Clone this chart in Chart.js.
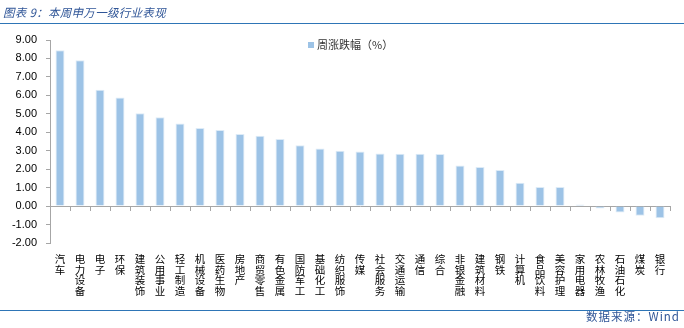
<!DOCTYPE html>
<html>
<head>
<meta charset="utf-8">
<script src="https://cdn.jsdelivr.net/npm/chart.js@4/dist/chart.umd.min.js"></script>
<style>
  html, body { margin: 0; padding: 0; background: #fff; }
  #wrap { position: relative; width: 684px; height: 328px; overflow: hidden; }
  #title { position: absolute; left: 3px; top: 4px; font: italic 11.5px "Noto Sans CJK SC", sans-serif; color: #2F5597; letter-spacing: 0.3px; white-space: nowrap; }
  .rule { position: absolute; left: 0; width: 684px; height: 1px; background: #2E75B6; }
  #legend { position: absolute; left: 308px; top: 36px; font: 11px "Noto Sans CJK SC", sans-serif; color: #333; white-space: nowrap; }
  #legend span.box { display: inline-block; width: 6px; height: 6px; background: #9DC3E6; margin-right: 3px; vertical-align: 1px; }
  #source { position: absolute; right: 4px; top: 308px; font: 11.5px "Noto Sans CJK SC", sans-serif; color: #2F5597; letter-spacing: 1px; white-space: nowrap; }
  canvas { position: absolute; left: 0; top: 0; }
</style>
</head>
<body>
<div id="wrap">
  <canvas id="c" width="684" height="328"></canvas>
  <div id="title">图表 9：本周申万一级行业表现</div>
  <div class="rule" style="top:23px"></div>
  <div id="legend"><span class="box"></span>周涨跌幅（%）</div>
  <div class="rule" style="top:310px"></div>
  <div id="source">数据来源：Wind</div>
</div>
<script>
// 申万一级行业本周涨跌幅
const industries = ['汽车','电力设备','电子','环保','建筑装饰','公用事业','轻工制造','机械设备','医药生物','房地产',
  '商贸零售','有色金属','国防军工','基础化工','纺织服饰','传媒','社会服务','交通运输','通信','综合',
  '非银金融','建筑材料','钢铁','计算机','食品饮料','美容护理','家用电器','农林牧渔','石油石化','煤炭','银行'];
const weeklyChange = [8.45, 7.90, 6.30, 5.88, 5.03, 4.81, 4.48, 4.23, 4.12, 3.90,
  3.81, 3.63, 3.30, 3.12, 3.00, 2.96, 2.85, 2.84, 2.84, 2.82,
  2.20, 2.12, 1.96, 1.27, 1.03, 1.03, 0.09, -0.13, -0.35, -0.52, -0.66];
const yMin = -2, yMax = 9, yStep = 1;

const axisGray = '#A6A6A6';

new Chart(document.getElementById('c'), {
  type: 'bar',
  data: {
    labels: industries,
    datasets: [{
      label: '周涨跌幅（%）',
      data: weeklyChange,
      backgroundColor: '#9DC3E6',
      borderColor: '#DDEBF7',
      borderWidth: 1,
      barPercentage: 0.45,
      categoryPercentage: 1.0
    }]
  },
  options: {
    responsive: false,
    animation: false,
    layout: { padding: { left: 0, right: 14, top: 40, bottom: 19 } },
    plugins: { legend: { display: false }, tooltip: { enabled: false } },
    scales: {
      x: {
        position: 'bottom',
        grid: { display: false },
        border: { display: false },
        ticks: {
          autoSkip: false,
          maxRotation: 0,
          minRotation: 0,
          padding: 3,
          color: '#000',
          font: { family: '"Noto Sans CJK SC", sans-serif', size: 10.5, lineHeight: 1.0 },
          callback: function (v) { return this.getLabelForValue(v).split(''); }
        },
        afterFit: s => { s.height = 66; }
      },
      x0: {
        type: 'category',
        labels: industries,
        position: { y: 0 },
        offset: true,
        grid: { offset: true, drawOnChartArea: false, drawTicks: true, tickLength: 4, color: axisGray },
        border: { display: true, color: axisGray, width: 1 },
        ticks: { display: false }
      },
      y: {
        min: yMin,
        max: yMax,
        grid: { drawOnChartArea: false, drawTicks: true, tickLength: 4, color: axisGray },
        border: { display: true, color: axisGray, width: 1 },
        ticks: {
          stepSize: yStep,
          padding: 9,
          color: '#000',
          font: { family: '"Liberation Sans", Arial, sans-serif', size: 11 },
          callback: v => Number(v).toFixed(2)
        },
        afterFit: s => { s.width = 50; }
      }
    }
  }
});
</script>
</body>
</html>
